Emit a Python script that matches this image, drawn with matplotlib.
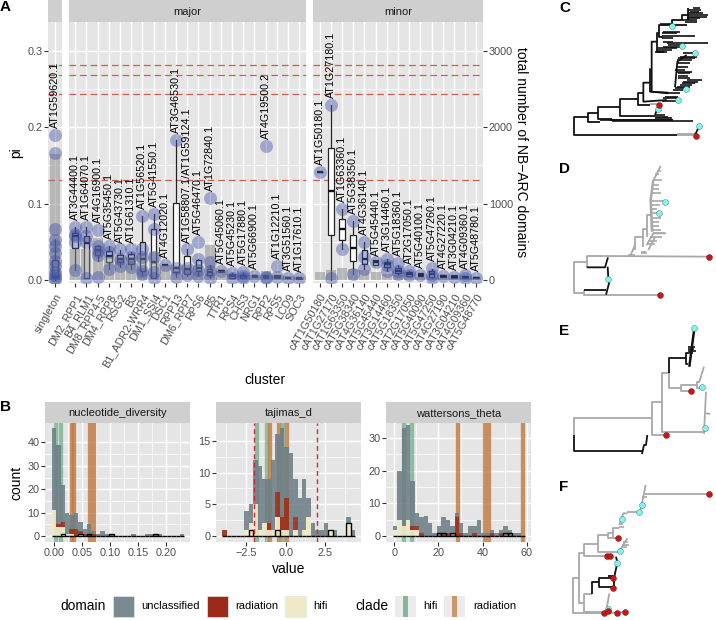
"""
plot.py
-------
NB-ARC cluster diversity figure: cluster box plots (A), diversity histograms (B)
and four small gene trees (C-F). Saves out.png.
"""

import numpy as np
import matplotlib
matplotlib.use("Agg")  # save-only backend

import matplotlib.pyplot as plt
from matplotlib.collections import LineCollection
from matplotlib.patches import Rectangle


# ============================================================
# DATA - PANEL A
# ============================================================

SINGLETON_NAMES = ["singleton"]
SINGLETON_LABELS = ["AT1G59620.1"]
SINGLETON_BARS = [1650]
SINGLETON_LO = [0.000]
SINGLETON_Q1 = [0.002]
SINGLETON_MED = [0.004]
SINGLETON_Q3 = [0.0255]
SINGLETON_HI = [0.054]
SINGLETON_POINTS = [[0.19, 0.167, 0.067, 0.053, 0.045, 0.035, 0.025, 0.018, 0.010, 0.006, 0.003, 0.001]]

MAJOR_NAMES = ["DM2_RPP1", "B4_RLM1", "DM8_RPP4-5", "DM4_RPP8", "RSG2", "B3", "B1_ADR2-WRR4",
               "DM1_SSI4", "DSC1", "RPP13", "DM6_RPP7", "RPS6", "B5", "TTR1", "RPS4", "CHS3",
               "NRG1", "RPP2", "RPS5", "LCD9", "SOC3"]
MAJOR_LABELS = ["AT3G44400.1", "AT1G64070.1", "AT4G16900.1", "AT5G35450.1", "AT5G43730.1",
                "AT1G61310.1", "AT1G56520.1", "AT5G41550.1", "AT4G12020.1", "AT3G46530.1",
                "AT1G58807.1/AT1G59124.1", "AT5G46470.1", "AT1G72840.1", "AT5G45060.1",
                "AT5G45230.1", "AT5G17880.1", "AT5G66900.1", "AT4G19500.2", "AT1G12210.1",
                "AT3G51560.1", "AT1G17610.1"]
MAJOR_BARS = [400, 400, 550, 300, 300, 300, 350, 370, 200, 180, 200, 200, 460, 120, 80, 70, 60, 120, 60, 50, 40]
MAJOR_LO = [.013, .003, .025, .014, .017, .015, .007, .002, .020, .004, .005, .005, .002, .010, .002, .002, .004, .002, .002, .002, .001]
MAJOR_Q1 = [.042, .003, .033, .023, .024, .021, .012, .003, .020, .011, .008, .012, .006, .011, .003, .003, .004, .002, .002, .002, .001]
MAJOR_MED = [.057, .048, .039, .031, .028, .028, .027, .024, .020, .016, .014, .016, .010, .012, .005, .005, .005, .004, .004, .003, .002]
MAJOR_Q3 = [.062, .058, .044, .038, .033, .034, .050, .067, .020, .101, .031, .026, .015, .013, .008, .007, .006, .006, .006, .003, .002]
MAJOR_HI = [.069, .069, .046, .045, .039, .037, .084, .086, .020, .183, .040, .027, .020, .013, .009, .009, .006, .006, .006, .003, .002]
MAJOR_POINTS = [
    [.069, .060, .057, .050, .013], [.069, .057, .050, .003], [.065, .044, .038, .033, .004],
    [.045, .036, .015], [.040, .028, .018], [.040, .030, .017], [.084, .040, .030, .012, .008],
    [.086, .067, .030, .010, .003], [.020], [.183, .016, .004], [.040, .016, .007],
    [.050, .027, .013, .005], [.107, .024, .012, .003], [.012], [.009, .003], [.010, .005, .002],
    [.005], [.176, .004, .002], [.018, .004], [.003], [.002],
]

MINOR_NAMES = ["cAT1G50180", "cAT1G27170", "cAT1G63350", "cAT5G38340", "cAT4G36140", "cAT5G45440",
               "cAT3G14460", "cAT5G18350", "cAT2G17050", "cAT5G40090", "cAT5G47250", "cAT4G27190",
               "cAT3G04210", "cAT4G09360", "cAT5G48770"]
MINOR_LABELS = ["AT1G50180.1", "AT1G27180.1", "AT1G63360.1", "AT5G38350.1", "AT4G36140.1",
                "AT5G45440.1", "AT3G14460.1", "AT5G18360.1", "AT2G17050.1", "AT5G40100.1",
                "AT5G47260.1", "AT4G27220.1", "AT3G04210.1", "AT4G09360.1", "AT5G48780.1"]
MINOR_BARS = [110, 130, 160, 140, 130, 100, 80, 70, 50, 40, 40, 30, 30, 30, 20]
MINOR_LO = [.141, .000, .040, .008, .015, .020, .012, .006, .005, .005, .002, .004, .002, .003, .002]
MINOR_Q1 = [.141, .059, .053, .025, .021, .020, .017, .009, .005, .005, .004, .004, .002, .003, .002]
MINOR_MED = [.141, .116, .067, .042, .028, .023, .021, .012, .008, .007, .008, .005, .004, .004, .003]
MINOR_Q3 = [.141, .173, .080, .059, .039, .026, .024, .016, .010, .009, .012, .006, .006, .005, .004]
MINOR_HI = [.141, .229, .093, .077, .050, .026, .028, .019, .012, .009, .014, .006, .006, .005, .004]
MINOR_POINTS = [
    [.141], [.229, .002], [.093, .040], [.077, .008], [.050, .030, .015], [.023], [.028, .020, .012],
    [.022, .012, .008], [.012, .006], [.007], [.016, .006, .003], [.005], [.004], [.006, .003], [.003],
]

PI_CUTOFFS = [0.2817, 0.2686, 0.244, 0.1314]


# ============================================================
# DATA - PANEL B
# ============================================================

ND_START, ND_WIDTH = -0.0041, 0.0079
ND_UNCLASS = [35, 34, 16, 9, 6, 7, 4, 2, 4, 1, 1, 2, 1, 1, 0, 0, 0, 0, 1, 0, 0, 1, 1, 1, 1, 0, 0, 0, 0, 1]
ND_RAD = [0, 1, 2, 0, 2, 3, 1, 1, 1, 1, 0, 0, 0, 0, 0, 0, 0, 0, 0, 0, 0, 0, 0, 0, 0, 0, 0, 0, 0, 0]
ND_HIFI = [11, 4, 4, 1, 1, 0, 1, 0, 0, 0, 0, 0, 0, 0, 0, 0, 0, 0, 0, 0, 0, 0, 0, 0, 0, 0, 0, 0, 0, 0]
ND_OUTLINE = [0, 0, 1, 0, 0, 0, 1, 0, 1, 0, 0, 0, 0, 1, 0, 0, 0, 0, 0, 0, 0, 0, 0, 1, 0, 0, 0, 0, 0, 0]
ND_CLADE_HIFI = [0.0036, 0.012]
ND_CLADE_RAD = [0.0315, 0.035, 0.0643, 0.072]

TD_START, TD_WIDTH = -4.01, 0.28
TD_UNCLASS = [0, 0, 0, 0, 0, 3, 3, 7, 10, 7, 7, 11, 9, 14, 8, 13, 6, 6, 8, 3, 2, 1, 1, 2, 0, 1, 0, 0, 1, 1]
TD_RAD = [1, 0, 0, 0, 0, 0, 0, 0, 0, 0, 1, 0, 4, 2, 5, 0, 2, 0, 0, 0, 0, 0, 0, 0, 0, 0, 0, 0, 0, 0]
TD_HIFI = [0, 0, 0, 0, 0, 1, 2, 5, 1, 2, 1, 1, 3, 1, 1, 0, 1, 0, 1, 3, 0, 0, 0, 0, 1, 0, 0, 0, 2, 0]
TD_OUTLINE = [0, 0, 0, 0, 0, 0, 1, 0, 0, 0, 0, 0, 1, 0, 0, 0, 0, 0, 0, 0, 0, 0, 0, 0, 1, 0, 0, 0, 2, 0]
TD_CLADE_HIFI = [-1.82, -1.18, -0.15]
TD_CLADE_RAD = [-0.97, -0.42, 0.08]
TD_CUTOFFS = [-2, 2]

WT_START, WT_WIDTH = -0.73, 2.0
WT_UNCLASS = [1, 15, 30, 29, 14, 4, 5, 6, 4, 1, 3, 5, 4, 3, 1, 3, 1, 3, 2, 5, 1, 1, 1, 1, 1, 3, 2, 1, 1, 0]
WT_RAD = [0, 0, 0, 0, 1, 1, 1, 0, 0, 0, 0, 1, 1, 0, 6, 1, 0, 0, 1, 0, 0, 0, 1, 0, 1, 0, 0, 0, 0, 0]
WT_HIFI = [2, 5, 3, 5, 2, 2, 0, 0, 0, 0, 0, 0, 0, 0, 0, 0, 0, 0, 0, 0, 0, 0, 0, 0, 0, 0, 0, 0, 0, 0]
WT_OUTLINE = [0, 0, 0, 0, 0, 0, 0, 0, 0, 0, 1, 1, 0, 1, 0, 0, 0, 0, 0, 0, 0, 0, 0, 0, 0, 1, 1, 0, 0, 0]
WT_CLADE_HIFI = [4.4, 7.9]
WT_CLADE_RAD = [28.8, 41.2, 42.8, 58.5]


# ============================================================
# DATA - TREES C-F (branches and tips, in tree plot units)
# ============================================================

TREE_C_BLACK = [
    [(145, 352), (103, 352), (103, 405), (410, 405)], [(175, 340), (145, 340), (145, 365), (180, 365)],
    [(240, 322), (175, 322), (175, 358), (215, 358)], [(295, 296), (240, 296), (240, 348), (345, 348)],
    [(310, 280), (295, 280), (295, 315), (330, 315)], [(330, 248), (310, 248), (310, 305), (380, 300)],
    [(350, 125), (335, 125), (335, 275), (385, 280)], [(330, 205), (330, 275), (385, 278)],
    [(358, 100), (350, 100), (350, 155), (372, 155)], [(395, 75), (358, 75), (358, 112), (368, 112)],
    [(425, 60), (395, 60), (395, 75), (440, 75)], [(345, 345), (352, 326), (358, 315)],
    [(465, 405), (478, 378)], [(405, 262), (412, 185), (440, 165)],
    [(210, 361), (400, 361)], [(425, 60), (425, 45), (445, 45)], [(445, 25), (445, 60)],
]
TREE_C_GRAY = [[(410, 405), (465, 405)], [(410, 403), (465, 403)], [(330, 312), (358, 312)]]
TREE_C_TIPS = [
    (460, 480, 25), (445, 482, 30), (450, 478, 35), (445, 490, 40), (445, 505, 45), (440, 500, 50),
    (440, 480, 55), (425, 470, 60), (435, 470, 65), (360, 395, 72), (370, 420, 95), (365, 410, 100),
    (365, 465, 108), (365, 400, 115), (370, 400, 125), (380, 505, 128), (385, 430, 135), (370, 420, 140),
    (355, 410, 145), (350, 395, 150), (345, 380, 155), (430, 470, 160), (420, 470, 170), (415, 465, 175),
    (410, 455, 180), (410, 450, 190), (410, 445, 200), (405, 435, 210), (410, 455, 215), (415, 450, 220),
    (415, 445, 228), (415, 450, 235), (440, 485, 240), (430, 475, 245), (425, 465, 250), (420, 455, 255),
    (410, 450, 260), (405, 440, 265), (400, 430, 270), (385, 420, 280), (375, 415, 290), (370, 410, 295),
    (365, 415, 302), (345, 375, 345), (345, 385, 350), (345, 395, 355), (180, 400, 360), (215, 400, 362),
    (400, 458, 364),
]
TREE_C_CYAN = [(395, 77), (427, 137), (464, 160), (437, 267), (413, 301), (353, 326), (478, 378)]
TREE_C_RED = [(358, 315), (468, 407)]

TREE_D_BLACK = [
    [(140, 352), (195, 352), (204, 322)], [(132, 420), (198, 420)], [(198, 434), (207, 400), (205, 385), (203, 350)],
]
TREE_D_GRAY = [
    [(140, 335), (103, 335), (103, 428), (132, 428)], [(190, 318), (140, 318), (140, 352)],
    [(132, 420), (132, 435), (355, 435)], [(190, 318), (505, 320)],
    [(285, 300), (285, 262), (310, 262)], [(310, 290), (310, 238), (320, 238)],
    [(320, 260), (320, 195), (332, 195)], [(272, 315), (285, 285)], [(338, 245), (333, 150), (341, 90), (362, 48)],
    [(335, 245), (331, 150), (339, 90)], [(320, 285), (340, 250), (378, 250)], [(325, 300), (345, 262)],
]
TREE_D_TIPS = [
    (352, 362, 62), (345, 358, 72), (340, 365, 90), (338, 358, 105), (335, 356, 118), (334, 362, 130),
    (335, 372, 152), (335, 360, 165), (335, 352, 178), (335, 357, 190), (340, 362, 203), (338, 358, 215),
    (336, 356, 228), (336, 362, 240), (340, 375, 250), (330, 365, 262), (325, 350, 272), (320, 345, 282),
    (303, 318, 305), (303, 322, 310), (265, 285, 316),
]
TREE_D_CYAN = [(374, 155), (357, 190), (205, 387)]
TREE_D_RED = [(507, 320), (360, 434)]

TREE_E_BLACK = [
    [(102, 375), (102, 423), (305, 423)], [(306, 432), (312, 405), (318, 405), (322, 375)],
    [(388, 188), (388, 145), (438, 145)], [(445, 128), (438, 128), (438, 162), (445, 162)],
    [(447, 170), (462, 55)], [(449, 170), (464, 55)],
]
TREE_E_GRAY = [
    [(335, 325), (102, 325), (102, 375)], [(367, 277), (335, 277), (335, 375), (375, 375)],
    [(388, 188), (367, 188), (367, 365), (492, 365)], [(492, 372), (498, 245)], [(497, 310), (510, 312)],
    [(388, 188), (388, 233), (422, 233)], [(472, 225), (422, 225), (422, 242), (450, 242)],
    [(480, 215), (472, 215), (472, 235), (487, 235)], [(478, 215), (492, 170)],
]
TREE_E_TIPS = [(445, 465, 112), (445, 462, 118), (443, 467, 124), (445, 458, 130)]
TREE_E_CYAN = [(462, 55), (487, 232), (496, 353)]
TREE_E_RED = [(379, 375), (453, 242)]

TREE_F_BLACK = [
    [(155, 388), (155, 352), (178, 352)], [(218, 338), (178, 338), (178, 367), (218, 367)],
    [(222, 370), (222, 340), (232, 293), (228, 275)], [(205, 333), (218, 333)],
]
TREE_F_GRAY = [
    [(118, 340), (99, 340), (99, 445), (190, 445)], [(132, 265), (118, 265), (118, 415), (133, 415)],
    [(155, 388), (133, 388), (133, 440), (205, 440)], [(200, 430), (208, 385)],
    [(175, 238), (132, 238), (132, 272), (200, 272)], [(205, 210), (175, 210), (175, 260), (235, 260)],
    [(218, 203), (205, 203), (205, 218), (232, 218)], [(238, 188), (218, 188), (218, 215)],
    [(238, 180), (245, 160), (250, 145), (262, 145)], [(262, 140), (298, 140)], [(300, 140), (305, 120), (317, 60)],
    [(315, 88), (505, 88)], [(240, 255), (262, 220)], [(190, 445), (255, 441)],
]
TREE_F_TIPS = [(250, 265, 232), (245, 268, 240), (245, 262, 246), (238, 252, 186), (238, 250, 178), (305, 322, 95)]
TREE_F_CYAN = [(305, 121), (298, 142), (245, 161), (240, 257), (231, 293), (203, 432)]
TREE_F_RED = [(507, 88), (233, 218), (200, 273), (209, 273), (218, 339), (218, 369),
              (191, 444), (205, 439), (232, 445), (255, 441)]


# ============================================================
# STYLE
# ============================================================

plt.rcParams["font.family"] = ["Liberation Sans", "DejaVu Sans"]

FIG_W, FIG_H = 716, 620
PANEL_BG = "#E5E5E5"
STRIP_BG = "#CFCFCF"
TICK_TEXT = "#4D4D4D"
UNCLASS_COLOR = "#6E7E87"
RAD_COLOR = "#9B2A18"
HIFI_COLOR = "#EFE9C5"
CLADE_HIFI_COLOR = "#5FA57A"
CLADE_RAD_COLOR = "#C07A40"
POINT_COLOR = "#3F51A5"
CUTOFF_COLOR = "#CB5F48"
RED_DASH = "#D7263D"
CYAN = "#7FF5F0"
DOT_RED = "#CC1414"
TREE_GRAY = "#A8A8A8"


def add_px_axes(fig, left, top, right, bottom):
    """Axes from a box given in figure pixels, y measured from the top."""
    return fig.add_axes([left / FIG_W, 1 - bottom / FIG_H, (right - left) / FIG_W, (bottom - top) / FIG_H])


def add_strip(fig, left, top, right, bottom, label=None):
    strip = add_px_axes(fig, left, top, right, bottom)
    strip.set_facecolor(STRIP_BG)
    strip.set_xticks([])
    strip.set_yticks([])
    for spine in strip.spines.values():
        spine.set_visible(False)
    if label:
        strip.text(0.5, 0.47, label, transform=strip.transAxes, ha="center", va="center", fontsize=8, color="#1A1A1A")


def clean_axes(ax, xmajor, xminor, ymajor, yminor):
    """ggplot grey look: white grid, no spines."""
    ax.set_facecolor(PANEL_BG)
    for spine in ax.spines.values():
        spine.set_visible(False)
    ax.set_xticks(xmajor)
    ax.set_xticks(xminor, minor=True)
    ax.set_yticks(ymajor)
    ax.set_yticks(yminor, minor=True)
    ax.grid(True, which="major", color="white", linewidth=1.0)
    ax.grid(True, which="minor", color="white", linewidth=0.5)
    ax.set_axisbelow(True)
    ax.tick_params(which="minor", length=0)
    ax.tick_params(which="major", length=2.6, width=0.8, color="#333333", labelcolor=TICK_TEXT, labelsize=7.8, pad=1.5)


def draw_clusters(ax, names, labels, bars, lo, q1, med, q3, hi, points):
    x = np.arange(1, len(names) + 1)
    clean_axes(ax, x, [], [0, 0.1, 0.2, 0.3], [0.05, 0.15, 0.25])
    ax.set_xlim(0.4, len(names) + 0.6)
    ax.set_ylim(-0.004, 0.338)

    for cutoff in PI_CUTOFFS:
        ax.axhline(cutoff, color=CUTOFF_COLOR, linewidth=0.9, linestyle=(0, (5.3, 3.2)), zorder=2)

    stats = [
        {"whislo": lo[i], "q1": q1[i], "med": med[i], "q3": q3[i], "whishi": hi[i], "fliers": []}
        for i in range(len(names))
    ]
    ax.bxp(
        stats, positions=x, widths=0.5, patch_artist=True, showcaps=False, showfliers=False,
        manage_ticks=False, zorder=2.5,
        boxprops={"facecolor": "white", "edgecolor": "#222222", "linewidth": 0.9},
        whiskerprops={"color": "#222222", "linewidth": 0.9},
        medianprops={"color": "#111111", "linewidth": 1.7, "solid_capstyle": "butt"},
    )
    ax.bar(x, np.array(bars) / 10000, width=0.9, color="#888888", alpha=0.5, zorder=3)

    for pos, values, label in zip(x, points, labels):
        ax.scatter([pos] * len(values), values, s=88, color=POINT_COLOR, alpha=0.42, linewidths=0, zorder=4)
        ax.text(pos, max(values) + 0.009, label, rotation=90, ha="center", va="bottom",
                fontsize=7.75, color="black", zorder=5)

    ax.set_xticklabels(names, rotation=60, ha="right", rotation_mode="anchor")
    ax.tick_params(axis="x", pad=4)


def draw_hist(ax, start, width, unclass, rad, hifi, outline, clade_hifi, clade_rad,
              xlim, ylim, xticks, xminor, yticks, yminor, xlabels=None):
    clean_axes(ax, xticks, xminor, yticks, yminor)
    unclass, rad, hifi = np.array(unclass), np.array(rad), np.array(hifi)
    centers = start + width * (np.arange(len(unclass)) + 0.5)

    # Clade bands sit under the translucent histogram
    for value in clade_hifi:
        ax.axvline(value, color=CLADE_HIFI_COLOR, alpha=0.65, linewidth=3.1, zorder=1.5)
    for value in clade_rad:
        ax.axvline(value, color=CLADE_RAD_COLOR, alpha=0.8, linewidth=3.1, zorder=1.5)

    ax.bar(centers, hifi, width=width, color=HIFI_COLOR, alpha=0.9, linewidth=0, zorder=2)
    ax.bar(centers, rad, width=width, bottom=hifi, color=RAD_COLOR, alpha=0.9, linewidth=0, zorder=2)
    ax.bar(centers, unclass, width=width, bottom=hifi + rad, color=UNCLASS_COLOR, alpha=0.88, linewidth=0, zorder=2)

    ax.bar(centers, outline, width=width, facecolor="none", edgecolor="black", linewidth=1.0, zorder=4)
    ax.set_xlim(*xlim)
    ax.set_ylim(*ylim)
    if xlabels:
        ax.set_xticklabels(xlabels)


def draw_tree(fig, box, ylim, black, gray, tips, tip_color, cyan, red):
    ax = add_px_axes(fig, *box)
    ax.set_xlim(0, 528)
    ax.set_ylim(ylim, 0)
    ax.axis("off")
    ax.patch.set_alpha(0)

    ax.add_collection(LineCollection(gray, colors=TREE_GRAY, linewidths=1.3))
    tip_segments = [[(x0, y), (x1, y)] for x0, x1, y in tips]
    ax.add_collection(LineCollection(tip_segments, colors=tip_color, linewidths=1.2))
    ax.add_collection(LineCollection(black, colors="#111111", linewidths=1.3))

    ax.scatter(*zip(*cyan), s=18, color=CYAN, edgecolors="#2F6F6F", linewidths=0.3, zorder=4)
    ax.scatter(*zip(*red), s=18, color=DOT_RED, edgecolors="#601010", linewidths=0.3, zorder=4)


# ============================================================
# FIGURE
# ============================================================

fig = plt.figure(figsize=(FIG_W / 100, FIG_H / 100), dpi=100)

# Panel A
add_strip(fig, 48, 0, 62, 22)
add_strip(fig, 68.5, 0, 306, 22, "major")
add_strip(fig, 313, 0, 483, 22, "minor")

ax_single = add_px_axes(fig, 48, 22, 62, 283)
ax_major = add_px_axes(fig, 68.5, 22, 306, 283)
ax_minor = add_px_axes(fig, 313, 22, 483, 283)

draw_clusters(ax_single, SINGLETON_NAMES, SINGLETON_LABELS, SINGLETON_BARS, SINGLETON_LO,
              SINGLETON_Q1, SINGLETON_MED, SINGLETON_Q3, SINGLETON_HI, SINGLETON_POINTS)
draw_clusters(ax_major, MAJOR_NAMES, MAJOR_LABELS, MAJOR_BARS, MAJOR_LO,
              MAJOR_Q1, MAJOR_MED, MAJOR_Q3, MAJOR_HI, MAJOR_POINTS)
draw_clusters(ax_minor, MINOR_NAMES, MINOR_LABELS, MINOR_BARS, MINOR_LO,
              MINOR_Q1, MINOR_MED, MINOR_Q3, MINOR_HI, MINOR_POINTS)

ax_single.set_yticklabels(["0.0", "0.1", "0.2", "0.3"])
ax_single.set_ylabel("pi", fontsize=10, labelpad=3)
for ax in (ax_major, ax_minor):
    ax.tick_params(axis="y", which="major", length=0, labelleft=False)

counts = ax_minor.secondary_yaxis("right", functions=(lambda v: v * 10000, lambda v: v / 10000))
counts.set_yticks([0, 1000, 2000, 3000])
counts.tick_params(length=2.6, width=0.8, color="#333333", labelcolor=TICK_TEXT, labelsize=7.8, pad=1.5)
counts.spines["right"].set_visible(False)
counts.set_ylabel("total number of NB\u2212ARC domains", rotation=270, fontsize=10, labelpad=11)

fig.text(265 / FIG_W, 1 - 380 / FIG_H, "cluster", ha="center", va="center", fontsize=10)

# Panel B
add_strip(fig, 45, 402, 190, 423, "nucleotide_diversity")
add_strip(fig, 216, 402, 360.7, 423, "tajimas_d")
add_strip(fig, 386, 402, 531, 423, "wattersons_theta")

ax_nd = add_px_axes(fig, 45, 423, 190, 542)
ax_td = add_px_axes(fig, 216, 423, 360.7, 542)
ax_wt = add_px_axes(fig, 386, 423, 531, 542)

draw_hist(ax_nd, ND_START, ND_WIDTH, ND_UNCLASS, ND_RAD, ND_HIFI, ND_OUTLINE, ND_CLADE_HIFI, ND_CLADE_RAD,
          (-0.016, 0.243), (-2.56, 48.3), [0, 0.05, 0.10, 0.15, 0.20], [0.025, 0.075, 0.125, 0.175, 0.225],
          [0, 10, 20, 30, 40], [5, 15, 25, 35], ["0.00", "0.05", "0.10", "0.15", "0.20"])
draw_hist(ax_td, TD_START, TD_WIDTH, TD_UNCLASS, TD_RAD, TD_HIFI, TD_OUTLINE, TD_CLADE_HIFI, TD_CLADE_RAD,
          (-4.41, 4.75), (-0.94, 17.8), [-2.5, 0, 2.5], [-3.75, -1.25, 1.25, 3.75],
          [0, 5, 10, 15], [2.5, 7.5, 12.5], ["\u22122.5", "0.0", "2.5"])
for cutoff in TD_CUTOFFS:
    ax_td.axvline(cutoff, color=RED_DASH, linewidth=1.0, linestyle=(0, (3.5, 2.5)), zorder=5)
draw_hist(ax_wt, WT_START, WT_WIDTH, WT_UNCLASS, WT_RAD, WT_HIFI, WT_OUTLINE, WT_CLADE_HIFI, WT_CLADE_RAD,
          (-3.76, 61.9), (-1.8, 34.6), [0, 20, 40, 60], [10, 30, 50],
          [0, 10, 20, 30], [5, 15, 25])

ax_nd.set_ylabel("count", fontsize=10, labelpad=2.4)
ax_td.set_xlabel("value", fontsize=10, labelpad=3)

# Legend, laid out by hand because the two titles sit to the left of their keys
legend = add_px_axes(fig, 0, 0, FIG_W, FIG_H)
legend.set_xlim(0, FIG_W)
legend.set_ylim(FIG_H, 0)
legend.axis("off")
legend.patch.set_alpha(0)

legend.text(60, 606, "domain", fontsize=9.9, va="center")
for left, color, label, text_x in [(113, "#7B8A92", "unclassified", 141),
                                   (207, RAD_COLOR, "radiation", 235),
                                   (285, HIFI_COLOR, "hifi", 313)]:
    legend.add_patch(Rectangle((left, 596), 21, 21, facecolor=color, edgecolor="#E5E5E5", linewidth=0.5))
    legend.text(text_x, 606, label, fontsize=8, va="center")

legend.text(355, 606, "clade", fontsize=9.9, va="center")
for left, color, label, text_x in [(395, CLADE_HIFI_COLOR, "hifi", 423),
                                   (444, CLADE_RAD_COLOR, "radiation", 473)]:
    legend.add_patch(Rectangle((left, 596), 21, 21, facecolor="#EBEBEB", edgecolor="none"))
    legend.add_patch(Rectangle((left + 8, 596), 5, 21, facecolor=color, alpha=0.75, edgecolor="none"))
    legend.text(text_x, 606, label, fontsize=8, va="center")

for letter, x, y in [("A", 0, 7), ("B", 0, 407), ("C", 559, 8), ("D", 559, 169), ("E", 559, 331), ("F", 559, 487)]:
    legend.text(x, y, letter, fontsize=11, fontweight="bold", va="center")

# Trees
draw_tree(fig, (540, 0, 716, 160), 480, TREE_C_BLACK, TREE_C_GRAY, TREE_C_TIPS, "#111111", TREE_C_CYAN, TREE_C_RED)
draw_tree(fig, (540, 150, 716, 310), 480, TREE_D_BLACK, TREE_D_GRAY, TREE_D_TIPS, TREE_GRAY, TREE_D_CYAN, TREE_D_RED)
draw_tree(fig, (540, 310, 716, 470), 480, TREE_E_BLACK, TREE_E_GRAY, TREE_E_TIPS, "#111111", TREE_E_CYAN, TREE_E_RED)
draw_tree(fig, (540, 465, 716, 620), 465, TREE_F_BLACK, TREE_F_GRAY, TREE_F_TIPS, TREE_GRAY, TREE_F_CYAN, TREE_F_RED)

fig.savefig("out.png", dpi=100)
plt.close(fig)
